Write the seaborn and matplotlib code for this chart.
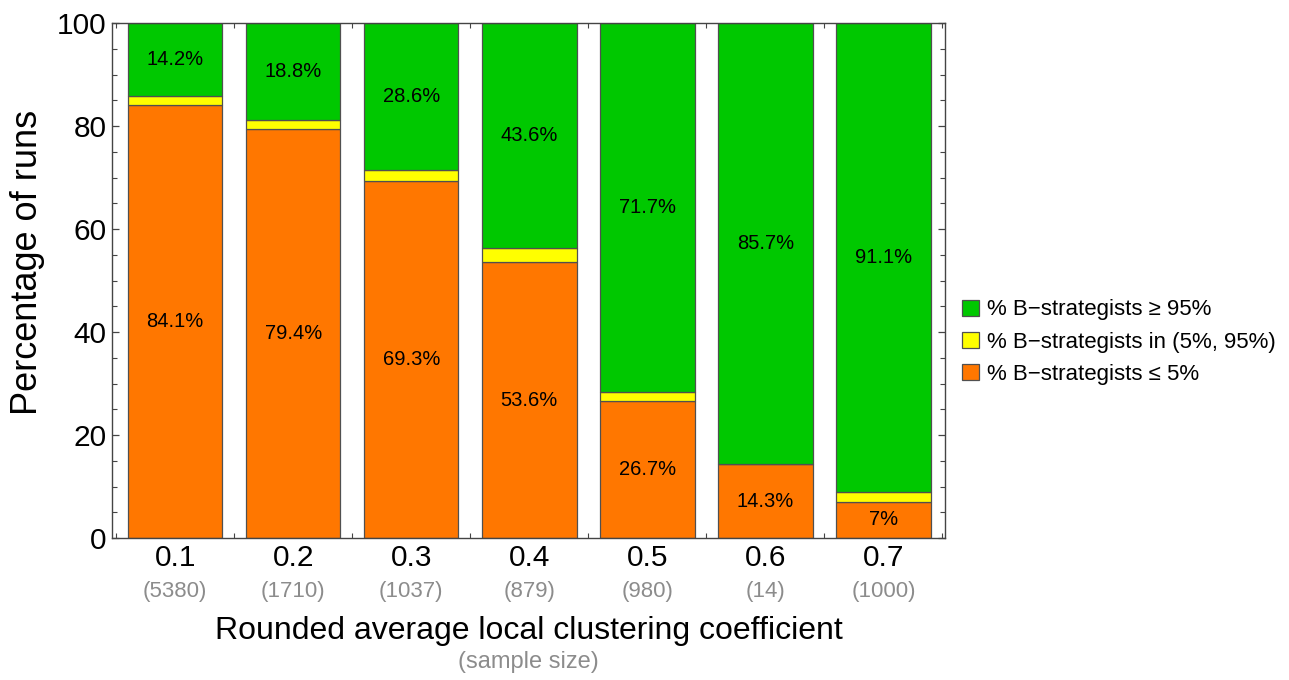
import numpy as np
import pandas as pd
import matplotlib
matplotlib.use('Agg')
import matplotlib.pyplot as plt
from matplotlib.patches import Patch
from matplotlib.ticker import MultipleLocator, FixedLocator
import seaborn as sns

# data
coefficients = ['0.1', '0.2', '0.3', '0.4', '0.5', '0.6', '0.7']
sample_sizes = [5380, 1710, 1037, 879, 980, 14, 1000]
pct_low = [84.1, 79.4, 69.3, 53.6, 26.7, 14.3, 7.0]     # <= 5%
pct_high = [14.2, 18.8, 28.6, 43.6, 71.7, 85.7, 91.1]   # >= 95%

df = pd.DataFrame({'coef': coefficients, 'low': pct_low, 'high': pct_high})
df['mid'] = (100 - df['low'] - df['high']).clip(lower=0)

c_low, c_mid, c_high = '#FF7700', '#FFFF00', '#00C800'
edge = '#505050'
gray = '#8c8c8c'

sns.set_style('ticks')
plt.rcParams['font.family'] = ['Liberation Sans', 'DejaVu Sans']
plt.rcParams['text.color'] = 'black'
plt.rcParams['axes.labelcolor'] = 'black'
plt.rcParams['xtick.labelcolor'] = 'black'
plt.rcParams['ytick.labelcolor'] = 'black'

fig = plt.figure(figsize=(12.89, 6.8), dpi=100)
ax = fig.add_axes([0.0869, 0.2088, 0.733 - 0.0869, 0.966 - 0.2088])

bar_kw = dict(edgecolor=edge, linewidth=0.9, errorbar=None, width=0.8,
              order=coefficients, saturation=1, ax=ax)
sns.barplot(data=df, x='coef', y='low', color=c_low, **bar_kw)
sns.barplot(data=df, x='coef', y='mid', color=c_mid,
            bottom=df['low'].values, **bar_kw)
sns.barplot(data=df, x='coef', y='high', color=c_high,
            bottom=(df['low'] + df['mid']).values, **bar_kw)

low_bars, mid_bars, high_bars = ax.containers[0], ax.containers[1], ax.containers[2]
ax.bar_label(low_bars, labels=[f'{v:g}%' for v in pct_low], label_type='center',
             fontsize=14.5, color='black')
ax.bar_label(high_bars, labels=[f'{v:g}%' for v in pct_high], label_type='center',
             fontsize=14.5, color='black')

ax.set_xlim(-0.535, 6.52)
ax.set_ylim(0, 100)
ax.yaxis.set_major_locator(MultipleLocator(20))
ax.yaxis.set_minor_locator(MultipleLocator(5))
ax.xaxis.set_minor_locator(FixedLocator(np.arange(-0.5, 7, 1)))
ax.tick_params(which='both', direction='in', top=True, right=True, color='#444444')
ax.tick_params(which='major', length=5, width=0.9, labelsize=21.5, pad=4)
ax.tick_params(which='minor', length=3.5, width=0.8)
for s in ax.spines.values():
    s.set_color('#444444')
    s.set_linewidth(1.0)
ax.set_xticks(range(len(coefficients)))
ax.set_xticklabels(coefficients)

trans = ax.get_xaxis_transform()
for i, n in enumerate(sample_sizes):
    ax.text(i, -0.104, f'({n})', transform=trans, ha='center', va='center',
            fontsize=16, color=gray)

ax.set_ylabel('Percentage of runs', fontsize=26)
ax.yaxis.set_label_coords(-0.08, 0.536)
ax.set_xlabel('Rounded average local clustering coefficient', fontsize=23, labelpad=32)
fig.text(0.41, 0.026, '(sample size)', ha='center', va='center', fontsize=17, color=gray)

handles = [Patch(facecolor=c_high, edgecolor=edge, linewidth=0.9),
           Patch(facecolor=c_mid, edgecolor=edge, linewidth=0.9),
           Patch(facecolor=c_low, edgecolor=edge, linewidth=0.9)]
labels = ['% B\u2212strategists \u2265 95%',
          '% B\u2212strategists in (5%, 95%)',
          '% B\u2212strategists \u2264 5%']
fig.legend(handles, labels, loc='center left', bbox_to_anchor=(0.731, 0.497),
           frameon=False, fontsize=16, handlelength=0.75, handleheight=0.75,
           handletextpad=0.35, labelspacing=0.5)

plt.savefig('out.png', dpi=100, facecolor='white')
